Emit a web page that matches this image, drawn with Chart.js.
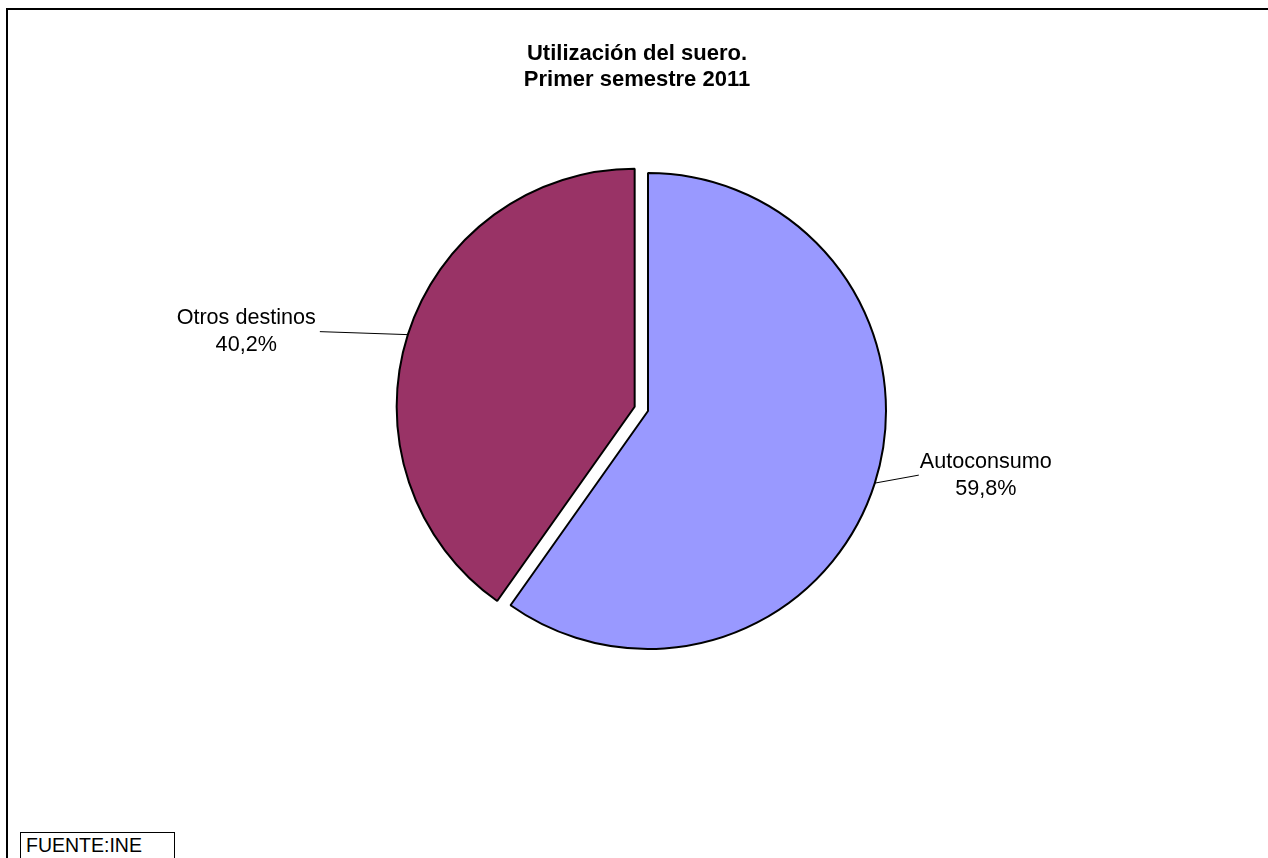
<!DOCTYPE html>
<html lang="es">
<head>
<meta charset="utf-8">
<title>Utilización del suero. Primer semestre 2011</title>
<script src="https://cdn.jsdelivr.net/npm/chart.js@4.4.1/dist/chart.umd.min.js"></script>
<style>
  html, body { margin: 0; padding: 0; background: #fff; overflow: hidden; }
  #marco {
    position: absolute; left: 6px; top: 8px; width: 1400px; height: 1000px;
    border: 2px solid #000; box-sizing: border-box;
  }
  #grafico { position: absolute; left: 0; top: 0; }
  #fuente {
    position: absolute; left: 20px; top: 832px; width: 155px; height: 40px;
    border: 1px solid #000; box-sizing: border-box; background: #fff;
    font: 19.5px "Liberation Sans", Arial, sans-serif; line-height: 22px;
    padding-left: 5px; padding-top: 1px;
  }
</style>
</head>
<body>
<div id="marco"></div>
<canvas id="grafico" width="1268" height="858"></canvas>
<div id="fuente">FUENTE:INE</div>
<script>
const categorias = ['Autoconsumo', 'Otros destinos'];
const porcentajes = [59.8, 40.2];
const colores = ['#9999FF', '#993366'];
const lineasTitulo = ['Utilización del suero.', 'Primer semestre 2011'];

// separación de la porción "Otros destinos" (px)
const separado = [0, 14];

const fuente = '"Liberation Sans", Arial, sans-serif';

function formatoPct(v) {
  return v.toFixed(1).replace('.', ',') + '%';
}

// desplaza la porción hacia afuera sin agrandarla
const separarPorcion = {
  id: 'separarPorcion',
  afterDatasetUpdate(chart, args) {
    args.meta.data.forEach((arc, i) => {
      const d = separado[i] || 0;
      if (!d) return;
      const mid = (arc.startAngle + arc.endAngle) / 2;
      arc.x += Math.cos(mid) * d;
      arc.y += Math.sin(mid) * d;
    });
  }
};

// etiquetas con línea guía
const etiquetas = {
  id: 'etiquetas',
  afterDatasetsDraw(chart, args, opts) {
    const ctx = chart.ctx;
    const meta = chart.getDatasetMeta(0);
    ctx.save();
    ctx.font = opts.font;
    ctx.fillStyle = '#000';
    ctx.strokeStyle = '#000';
    ctx.lineWidth = 1;
    ctx.textBaseline = 'middle';
    ctx.textAlign = 'center';
    meta.data.forEach((arc, i) => {
      const mid = (arc.startAngle + arc.endAngle) / 2;
      const x0 = arc.x + Math.cos(mid) * arc.outerRadius;
      const y0 = arc.y + Math.sin(mid) * arc.outerRadius;
      const x1 = x0 + opts.dx[i];
      const y1 = y0 + opts.dy[i];
      ctx.beginPath();
      ctx.moveTo(x0, y0);
      ctx.lineTo(x1, y1);
      ctx.stroke();
      const lineas = [categorias[i], formatoPct(porcentajes[i])];
      const ancho = Math.max(...lineas.map(t => ctx.measureText(t).width));
      const cx = opts.dx[i] >= 0 ? x1 + 1 + ancho / 2 : x1 - 4 - ancho / 2;
      lineas.forEach((t, k) => ctx.fillText(t, cx, y1 + (k - 0.5) * opts.interlineado));
    });
    ctx.restore();
  }
};

const titulo = {
  id: 'titulo',
  afterDraw(chart, args, opts) {
    const ctx = chart.ctx;
    ctx.save();
    ctx.font = opts.font;
    ctx.fillStyle = '#000';
    ctx.textAlign = 'center';
    ctx.textBaseline = 'middle';
    lineasTitulo.forEach((t, k) => ctx.fillText(t, opts.x, opts.y + k * opts.interlineado));
    ctx.restore();
  }
};

new Chart(document.getElementById('grafico'), {
  type: 'pie',
  data: {
    labels: categorias,
    datasets: [{
      data: porcentajes,
      backgroundColor: colores,
      borderColor: '#000',
      borderWidth: 2
    }]
  },
  options: {
    responsive: false,
    animation: false,
    events: [],
    radius: 238,
    layout: { padding: { left: 28, right: 0, top: 0, bottom: 36 } },
    plugins: {
      legend: { display: false },
      tooltip: { enabled: false },
      title: { display: false },
      etiquetas: { font: '21.6px ' + fuente, interlineado: 27, dx: [44, -88], dy: [-8, -3] },
      titulo: { font: 'bold 22px ' + fuente, x: 637, y: 54, interlineado: 26 }
    }
  },
  plugins: [separarPorcion, etiquetas, titulo]
});
</script>
</body>
</html>
